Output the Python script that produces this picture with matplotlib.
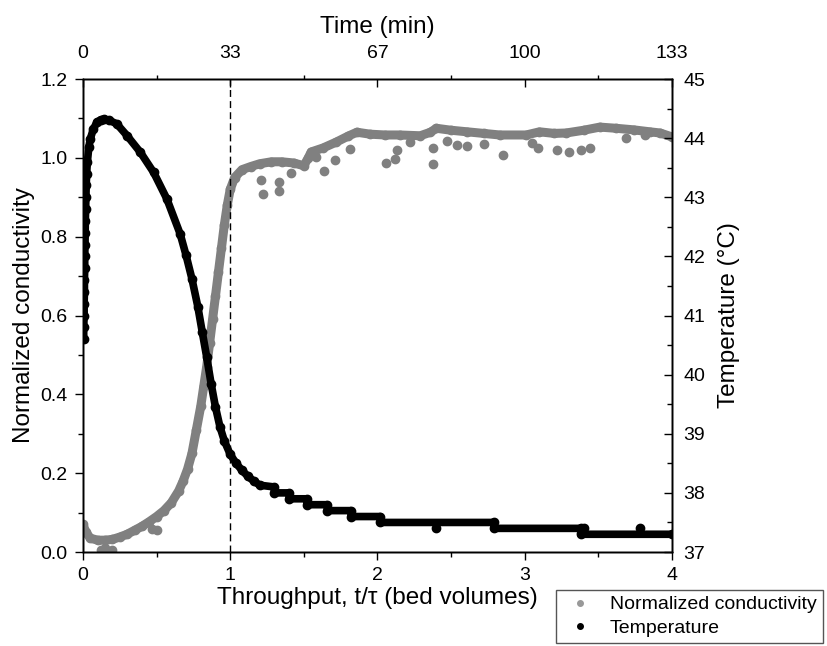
import matplotlib
matplotlib.use('Agg')
import matplotlib.pyplot as plt
from matplotlib.lines import Line2D
from matplotlib.ticker import MultipleLocator

plt.rcParams['font.family'] = ['Liberation Sans', 'DejaVu Sans']

# Temperature (right axis), throughput in bed volumes
temp_x = [0.005, 0.005, 0.008, 0.008, 0.010, 0.010, 0.012, 0.012, 0.014, 0.015,
          0.016, 0.018, 0.020, 0.022, 0.025, 0.030, 0.040, 0.050, 0.070, 0.095,
          0.12, 0.14, 0.18, 0.23, 0.30, 0.39, 0.48, 0.57, 0.66, 0.70,
          0.74, 0.78, 0.81, 0.84, 0.87, 0.90, 0.93, 0.96, 1.00, 1.04,
          1.08, 1.12, 1.16, 1.20, 1.30, 1.30, 1.40, 1.40, 1.52, 1.52,
          1.66, 1.66, 1.82, 1.82, 2.02, 2.02, 2.79, 2.79, 3.38, 3.38, 4.00]
temp_y = [40.60, 40.80, 41.00, 41.20, 41.40, 41.60, 41.80, 42.00, 42.20, 42.40,
          42.60, 42.80, 43.00, 43.20, 43.40, 43.60, 43.85, 43.99, 44.15, 44.27,
          44.31, 44.32, 44.30, 44.24, 44.04, 43.76, 43.42, 42.97, 42.38, 42.02,
          41.62, 41.15, 40.72, 40.30, 39.85, 39.45, 39.12, 38.88, 38.65, 38.50,
          38.38, 38.28, 38.20, 38.13, 38.10, 38.00, 38.00, 37.90, 37.90, 37.80,
          37.80, 37.70, 37.70, 37.60, 37.60, 37.50, 37.50, 37.40, 37.40, 37.30, 37.30]
temp_out_x = [2.40, 3.40, 3.78]
temp_out_y = [37.41, 37.40, 37.40]

# Normalized conductivity (left axis)
cond_x = [0.00, 0.02, 0.05, 0.10, 0.15, 0.20, 0.25, 0.30, 0.35, 0.40,
          0.45, 0.50, 0.55, 0.60, 0.65, 0.68, 0.71, 0.74, 0.77, 0.80,
          0.82, 0.84, 0.86, 0.88, 0.90, 0.92, 0.94, 0.96, 0.98, 1.00,
          1.03, 1.08, 1.14, 1.20, 1.28, 1.35, 1.43, 1.50, 1.53, 1.55,
          1.63, 1.72, 1.80, 1.86, 1.95, 2.05, 2.15, 2.29, 2.36, 2.40,
          2.50, 2.61, 2.72, 2.83, 3.01, 3.10, 3.20, 3.28, 3.40, 3.51,
          3.62, 3.74, 3.85, 3.92, 4.00]
cond_y = [0.070, 0.050, 0.035, 0.030, 0.030, 0.032, 0.038, 0.045, 0.055, 0.065,
          0.077, 0.090, 0.105, 0.125, 0.155, 0.180, 0.210, 0.250, 0.310, 0.370,
          0.420, 0.470, 0.530, 0.590, 0.650, 0.710, 0.770, 0.830, 0.880, 0.920,
          0.950, 0.970, 0.978, 0.985, 0.990, 0.990, 0.987, 0.980, 1.000, 1.015,
          1.025, 1.040, 1.055, 1.065, 1.060, 1.058, 1.058, 1.056, 1.065, 1.075,
          1.070, 1.066, 1.062, 1.058, 1.058, 1.066, 1.062, 1.063, 1.070, 1.078,
          1.075, 1.071, 1.066, 1.063, 1.053]
cond_out_x = [0.12, 0.15, 0.20, 0.47, 0.50, 1.22, 1.33, 1.21, 1.33, 1.41,
              1.64, 1.71, 1.58, 1.81, 2.06, 2.12, 2.13, 2.22, 2.38, 2.38,
              2.47, 2.54, 2.61, 2.72, 2.85, 3.05, 3.09, 3.22, 3.30, 3.38,
              3.44, 3.69, 3.82]
cond_out_y = [0.005, 0.010, 0.005, 0.058, 0.056, 0.908, 0.916, 0.944, 0.939, 0.961,
              0.967, 0.994, 1.003, 1.022, 0.987, 0.997, 1.020, 1.040, 0.984, 1.025,
              1.043, 1.033, 1.030, 1.035, 1.007, 1.038, 1.025, 1.020, 1.016, 1.020,
              1.025, 1.050, 1.058]

time_ticks = [0, 1, 2, 3, 4]
time_labels = ['0', '33', '67', '100', '133']

grey = '#808080'

fig = plt.figure(figsize=(8.28, 6.46), dpi=100)
ax = fig.add_axes([0.1002, 0.1455, 0.7114, 0.7322])

ax.plot(cond_x, cond_y, color=grey, lw=6.5, marker='o', ms=6,
        solid_capstyle='round', solid_joinstyle='round')
ax.plot(cond_out_x, cond_out_y, ls='none', marker='o', ms=6, color=grey)
ax.axvline(1, color='black', ls=(0, (5, 3)), lw=1)

ax.set_xlim(0, 4)
ax.set_ylim(0, 1.2)
ax.xaxis.set_major_locator(MultipleLocator(1))
ax.xaxis.set_minor_locator(MultipleLocator(0.5))
ax.yaxis.set_major_locator(MultipleLocator(0.2))
ax.yaxis.set_minor_locator(MultipleLocator(0.1))
ax.tick_params(which='both', direction='out', labelsize=14, width=1)
ax.tick_params(which='major', length=6, pad=5)
ax.tick_params(which='minor', length=3.5)
ax.set_xlabel('Throughput, t/\u03c4 (bed volumes)', fontsize=17.5, labelpad=2)
ax.set_ylabel('Normalized conductivity', fontsize=17.5, labelpad=4)

ax2 = ax.twinx()
ax2.plot(temp_x, temp_y, color='black', lw=5.5, marker='o', ms=6,
         solid_capstyle='round', solid_joinstyle='round')
ax2.plot(temp_out_x, temp_out_y, ls='none', marker='o', ms=6, color='black')
ax2.set_ylim(37, 45)
ax2.yaxis.set_major_locator(MultipleLocator(1))
ax2.yaxis.set_minor_locator(MultipleLocator(0.5))
ax2.tick_params(which='both', direction='in', labelsize=14, width=1)
ax2.tick_params(which='major', length=6, pad=8)
ax2.tick_params(which='minor', length=3.5)
ax2.set_ylabel('Temperature (\u00b0C)', fontsize=17.5, labelpad=9)

ax3 = ax.twiny()
ax3.set_xlim(0, 4)
ax3.set_xticks(time_ticks)
ax3.set_xticklabels(time_labels)
ax3.xaxis.set_minor_locator(MultipleLocator(0.5))
ax3.tick_params(which='major', direction='in', length=6, labelsize=14, width=1, pad=12)
ax3.tick_params(which='minor', direction='out', length=3, width=1)
ax3.set_xlabel('Time (min)', fontsize=17.5, labelpad=9)

for a in (ax, ax2, ax3):
    for s in a.spines.values():
        s.set_linewidth(1.0)

handles = [Line2D([], [], ls='none', marker='o', ms=4, color='#999999'),
           Line2D([], [], ls='none', marker='o', ms=4, color='black')]
fig.legend(handles, ['Normalized conductivity', 'Temperature'],
           loc='upper left', bbox_to_anchor=(556 / 828, 1 - 590 / 646),
           fontsize=14, frameon=True, fancybox=False, edgecolor='#555555',
           framealpha=1, borderpad=0.3, borderaxespad=0, handlelength=1.85,
           handletextpad=0.63, labelspacing=0.3)

fig.savefig('out.png', dpi=100)
